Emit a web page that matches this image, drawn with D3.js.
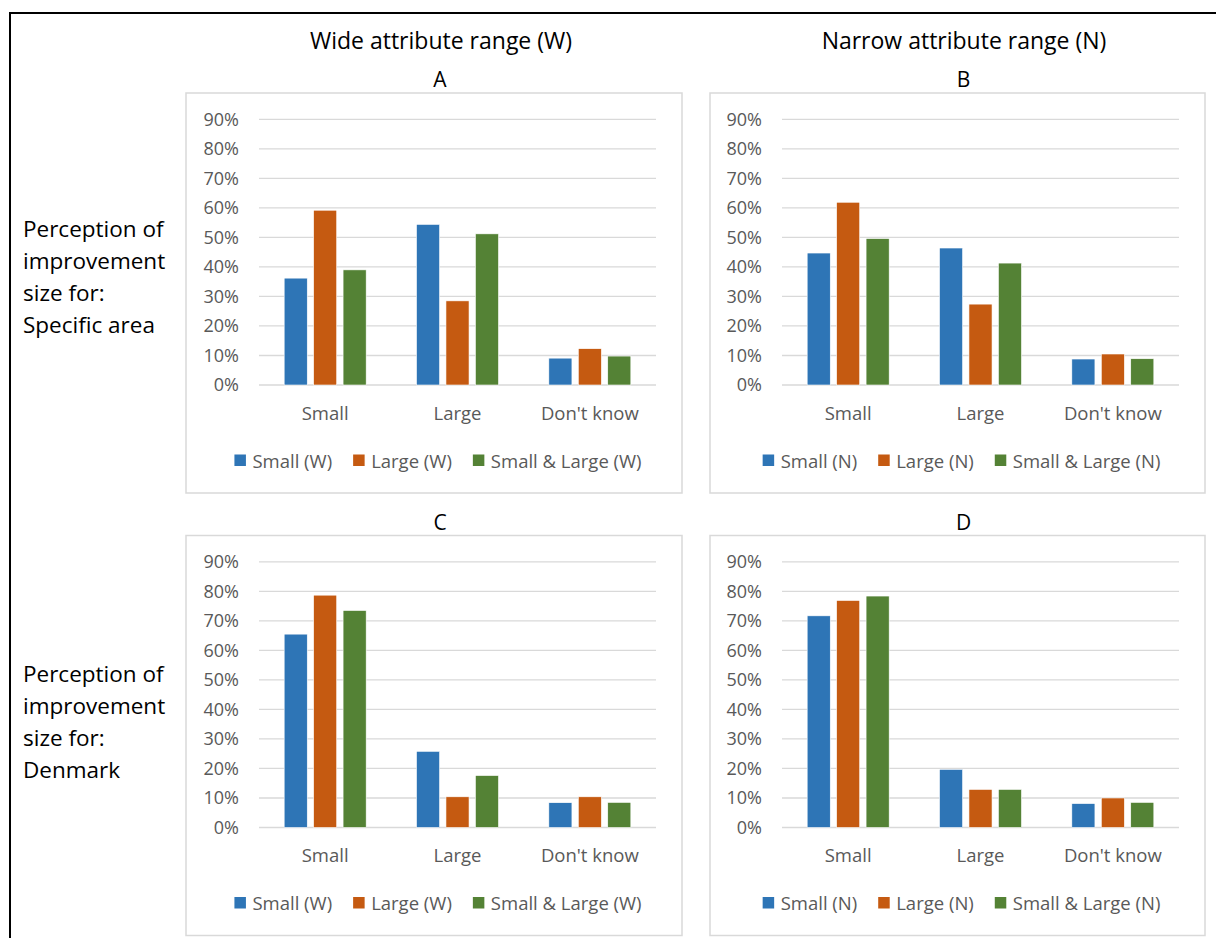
<!DOCTYPE html>
<html>
<head>
<meta charset="utf-8">
<script src="https://cdn.jsdelivr.net/npm/d3@7"></script>
<style>
  html, body { margin: 0; padding: 0; background: #fff; }
  svg { display: block; }
</style>
</head>
<body>
<svg id="chart" width="1216" height="938"></svg>
<script>
// Categories on the x axis of every panel
const categories = ["Small", "Large", "Don't know"];

// Series names for the wide (W) and narrow (N) attribute-range panels
const seriesW = ["Small (W)", "Large (W)", "Small & Large (W)"];
const seriesN = ["Small (N)", "Large (N)", "Small & Large (N)"];

// Y-axis tick values (percent)
const yTicks = [0, 10, 20, 30, 40, 50, 60, 70, 80, 90];

// Percent values: one row per series, one entry per category
const valuesA = [[36.2, 54.4, 9.1], [59.2, 28.5, 12.3], [39.0, 51.2, 9.8]];
const valuesB = [[44.7, 46.4, 8.8], [61.9, 27.4, 10.5], [49.6, 41.3, 8.9]];
const valuesC = [[65.5, 25.8, 8.4], [78.7, 10.4, 10.4], [73.5, 17.6, 8.5]];
const valuesD = [[71.7, 19.7, 8.1], [76.9, 12.9, 10.0], [78.4, 12.9, 8.5]];

const colors = ["#2E75B6", "#C55A11", "#548235"];

const columnTitles = ["Wide attribute range (W)", "Narrow attribute range (N)"];
const rowLabels = [
  ["Perception of", "improvement", "size for:", "Specific area"],
  ["Perception of", "improvement", "size for:", "Denmark"]
];

const FONT = "'Open Sans', 'Noto Sans', sans-serif";
const svg = d3.select("#chart");

// Outer frame: top and left rules
svg.append("line").attr("x1", 10).attr("x2", 1216).attr("y1", 13).attr("y2", 13)
  .attr("stroke", "#000").attr("stroke-width", 2);
svg.append("line").attr("x1", 10).attr("x2", 10).attr("y1", 12).attr("y2", 938)
  .attr("stroke", "#000").attr("stroke-width", 2);

// Column headings
const colCenters = [441, 964];
columnTitles.forEach((t, i) => {
  svg.append("text").attr("x", colCenters[i]).attr("y", 40)
    .attr("text-anchor", "middle").attr("dominant-baseline", "central")
    .attr("font-family", FONT).attr("font-size", 23).attr("fill", "#000").text(t);
});

// Row headings
const rowTops = [228, 673];
rowLabels.forEach((lines, r) => {
  lines.forEach((l, j) => {
    svg.append("text").attr("x", 23).attr("y", rowTops[r] + j * 32)
      .attr("dominant-baseline", "central")
      .attr("font-family", FONT).attr("font-size", 22.5).attr("fill", "#000").text(l);
  });
});

const panels = [
  { letter: "A", x: 186, y: 93, w: 496, values: valuesA, series: seriesW },
  { letter: "B", x: 710, y: 93, w: 495, values: valuesB, series: seriesN },
  { letter: "C", x: 186, y: 535.5, w: 496, values: valuesC, series: seriesW },
  { letter: "D", x: 710, y: 535.5, w: 495, values: valuesD, series: seriesN }
];

panels.forEach(p => {
  const g = svg.append("g");
  const H = 400;

  // Panel letter above the box
  g.append("text").attr("x", p.x + p.w / 2 + 6).attr("y", p.y - 14)
    .attr("text-anchor", "middle").attr("dominant-baseline", "central")
    .attr("font-family", FONT).attr("font-size", 21).attr("fill", "#000").text(p.letter);

  // Chart box
  g.append("rect").attr("x", p.x).attr("y", p.y).attr("width", p.w).attr("height", H)
    .attr("fill", "#fff").attr("stroke", "#d9d9d9").attr("stroke-width", 1.5);

  const left = p.x + (p.letter === "A" || p.letter === "C" ? 73 : 72);
  const right = left + 397;
  const y = d3.scaleLinear().domain([0, 90]).range([p.y + 292, p.y + 26.3]);
  const x0 = d3.scaleBand().domain(categories).range([left, right]).paddingInner(0).paddingOuter(0);

  // Gridlines
  g.selectAll(".grid").data(yTicks).join("line")
    .attr("x1", left).attr("x2", right)
    .attr("y1", d => y(d)).attr("y2", d => y(d))
    .attr("stroke", "#d9d9d9").attr("stroke-width", 1.3);

  // Y axis labels
  const yAxis = d3.axisLeft(y).tickValues(yTicks).tickFormat(d => d + "%").tickSize(0).tickPadding(20);
  const ya = g.append("g").attr("transform", `translate(${left},0)`).call(yAxis);
  ya.select(".domain").remove();
  ya.selectAll("text").attr("font-family", FONT).attr("font-size", 18).attr("fill", "#595959");

  // X axis labels
  const xAxis = d3.axisBottom(x0).tickSize(0).tickPadding(0);
  const xa = g.append("g").attr("transform", `translate(0,${p.y + 319})`).call(xAxis);
  xa.select(".domain").remove();
  xa.selectAll("text").attr("font-family", FONT).attr("font-size", 18.5).attr("fill", "#595959")
    .attr("dy", null).attr("dominant-baseline", "central");

  // Bars
  categories.forEach((c, ci) => {
    const center = x0(c) + x0.bandwidth() / 2;
    const x1 = d3.scaleBand().domain(p.series).range([center - 41, center + 41])
      .paddingInner(0.216).paddingOuter(0);
    p.series.forEach((s, si) => {
      const v = p.values[si][ci];
      g.append("rect")
        .attr("x", x1(s)).attr("width", x1.bandwidth())
        .attr("y", y(v)).attr("height", y(0) - y(v))
        .attr("fill", colors[si]).attr("stroke", "#fff").attr("stroke-width", 0.6);
    });
  });

  // Legend, centred in the box
  const lg = g.append("g");
  let cx = 0;
  p.series.forEach((s, si) => {
    const it = lg.append("g");
    it.append("rect").attr("x", 0).attr("y", -5.5).attr("width", 11.5).attr("height", 11.5).attr("fill", colors[si]);
    const t = it.append("text").attr("x", 18).attr("y", 0).attr("dominant-baseline", "central")
      .attr("font-family", FONT).attr("font-size", 18.5).attr("fill", "#595959").text(s);
    const w = 18 + t.node().getComputedTextLength();
    it.attr("transform", `translate(${cx},0)`);
    cx += w + 21;
  });
  const totalW = cx - 21;
  lg.attr("transform", `translate(${p.x + p.w / 2 - totalW / 2 + 4},${p.y + 367})`);
});
</script>
</body>
</html>
